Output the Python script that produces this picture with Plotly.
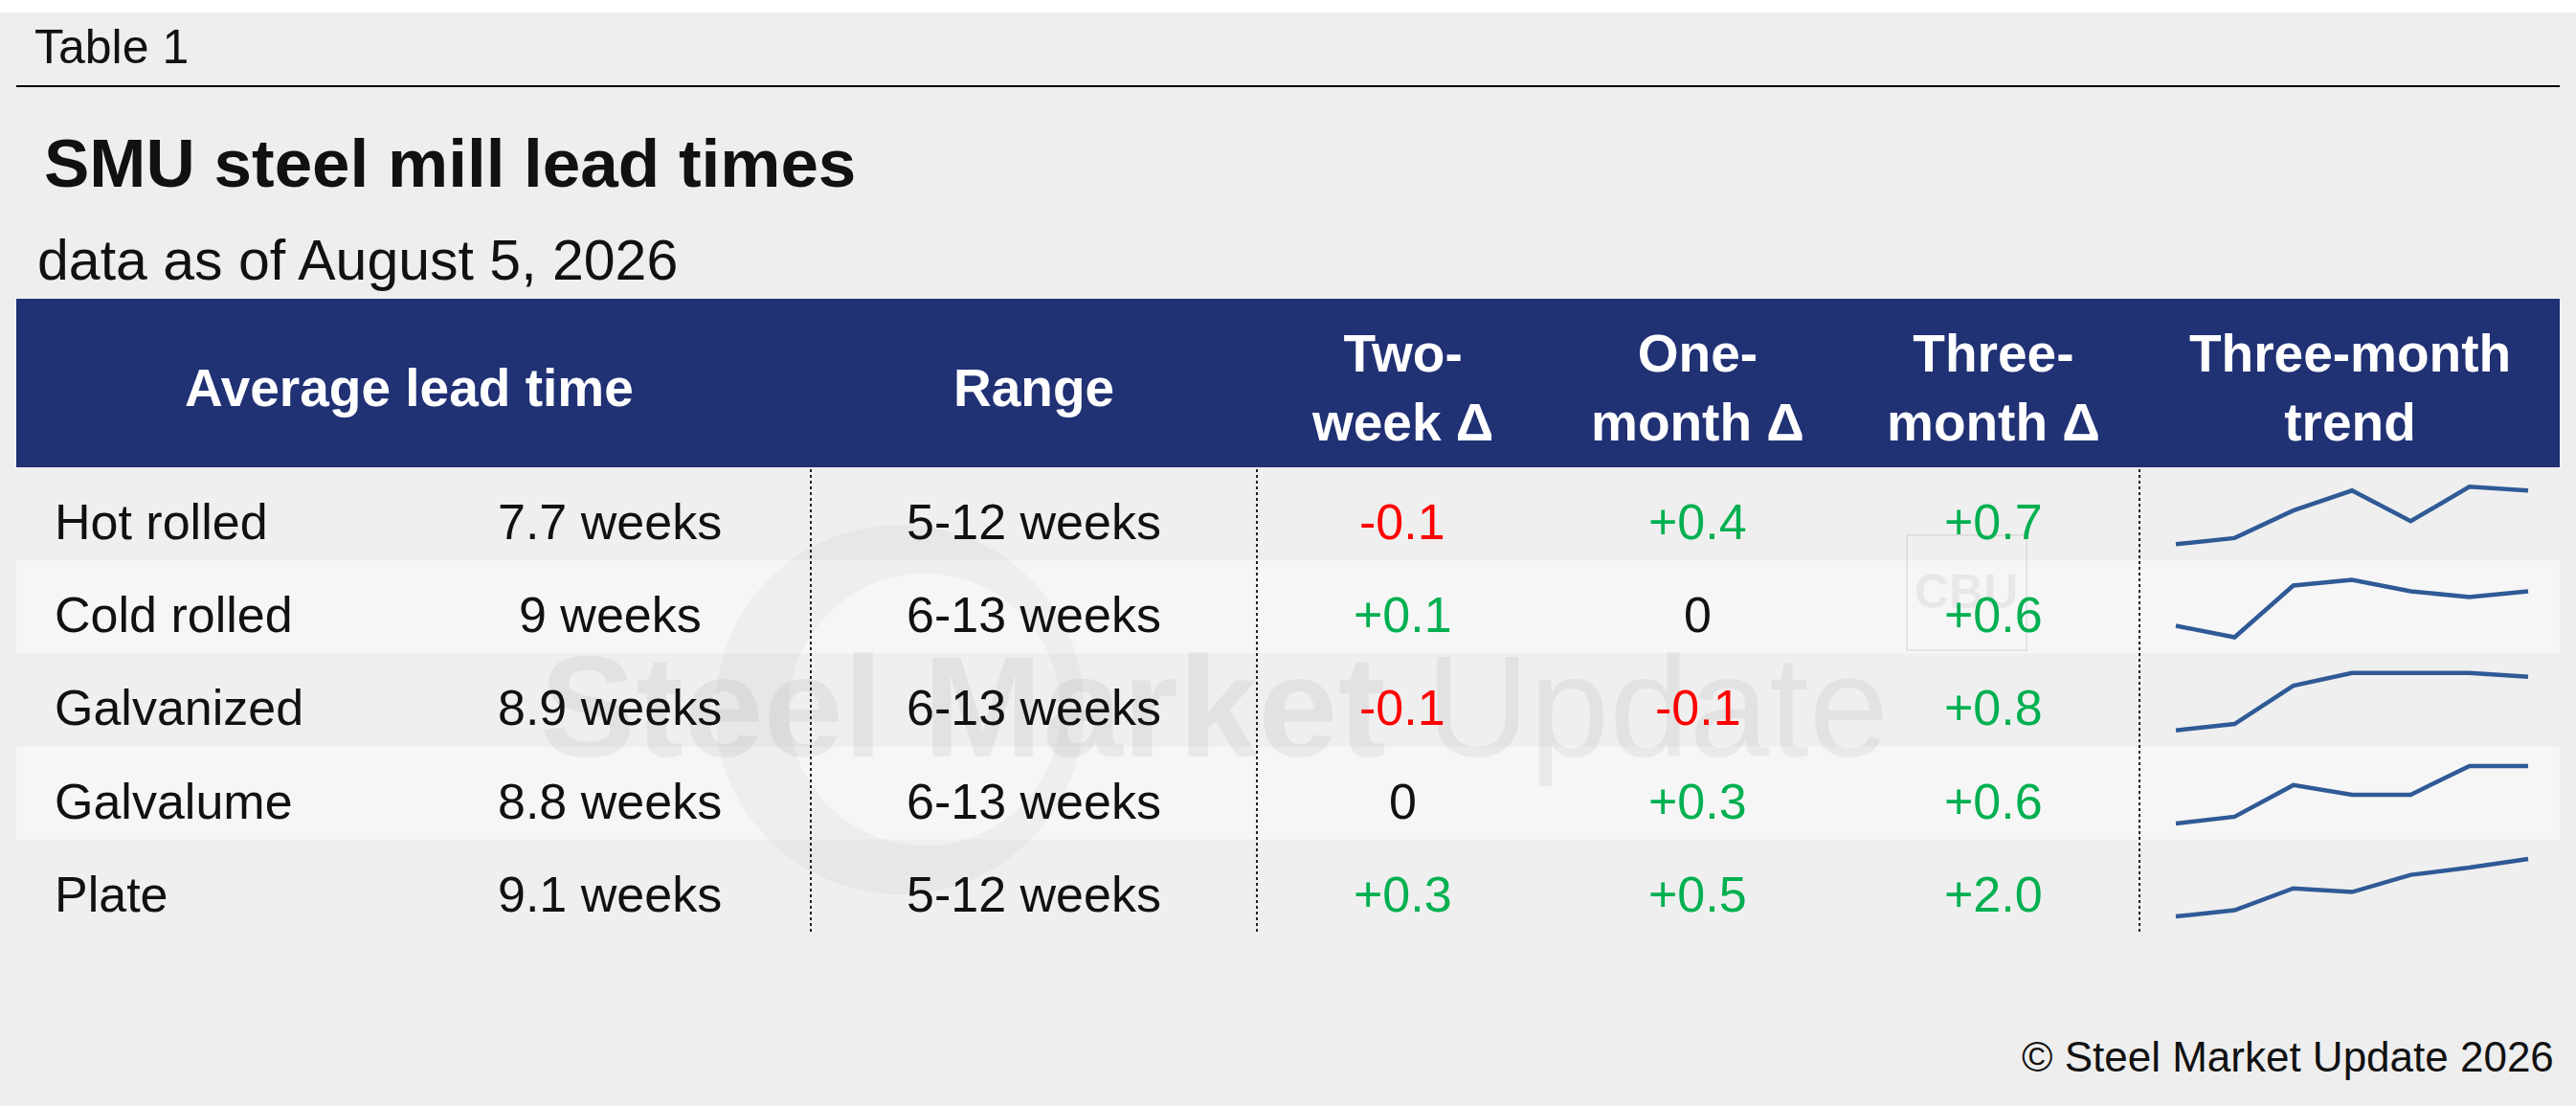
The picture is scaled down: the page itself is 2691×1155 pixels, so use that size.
import plotly.graph_objects as go

#%% Dados
W, H = 2691, 1155

products = ['Hot rolled', 'Cold rolled', 'Galvanized', 'Galvalume', 'Plate']
lead_avg = ['7.7 weeks', '9 weeks', '8.9 weeks', '8.8 weeks', '9.1 weeks']
lead_range = ['5-12 weeks', '6-13 weeks', '6-13 weeks', '6-13 weeks', '5-12 weeks']
chg_2w = [-0.1, 0.1, -0.1, 0, 0.3]
chg_1m = [0.4, 0, -0.1, 0.3, 0.5]
chg_3m = [0.7, 0.6, 0.8, 0.6, 2.0]

# three-month trend, one point every two weeks
trend_steps = [0, 1, 2, 3, 4, 5, 6]
trend_hot = [7.0, 7.08, 7.44, 7.7, 7.3, 7.75, 7.7]
trend_cold = [8.4, 8.2, 9.1, 9.2, 9.0, 8.9, 9.0]
trend_galv = [8.1, 8.2, 8.8, 9.0, 9.0, 9.0, 8.94]
trend_galvalume = [8.2, 8.27, 8.6, 8.5, 8.5, 8.8, 8.8]
trend_plate = [7.1, 7.32, 8.08, 7.95, 8.55, 8.8, 9.1]

headers = ['Average lead time', 'Range', 'Two-<br>week Δ', 'One-<br>month Δ',
           'Three-<br>month Δ', 'Three-month<br>trend']

title = 'SMU steel mill lead times'
subtitle = 'data as of August 5, 2026'
footer = '© Steel Market Update 2026'

#%% Helpers
FONT = 'Liberation Sans, Arial, Helvetica, sans-serif'
NAVY = '#203174'
GREEN = '#00B050'
RED = '#FF0000'
INK = '#111111'
SPARK = '#2F5A96'


def px(x):
    return x / W


def py(y):
    return 1 - y / H


def fmt(v):
    if v == 0:
        return '0'
    return f'{v:+.1f}'


def col(v):
    if v > 0:
        return GREEN
    if v < 0:
        return RED
    return INK


def txt(x, y, s, size, color=INK, bold=False, xanchor='left'):
    if bold:
        s = '<b>' + s + '</b>'
    return dict(x=px(x), y=py(y), xref='paper', yref='paper', text=s, showarrow=False,
                xanchor=xanchor, yanchor='middle', align='center',
                font=dict(family=FONT, size=size, color=color))


def rect(x0, y0, x1, y1, fill, line_color=None, line_width=0):
    return dict(type='rect', xref='paper', yref='paper', x0=px(x0), x1=px(x1),
                y0=py(y1), y1=py(y0), fillcolor=fill, layer='below',
                line=dict(width=line_width, color=line_color or fill))


def circle_path(cx, cy, r):
    k = 0.5523 * r
    return (f'M {cx - r},{cy} C {cx - r},{cy + k} {cx - k},{cy + r} {cx},{cy + r} '
            f'C {cx + k},{cy + r} {cx + r},{cy + k} {cx + r},{cy} '
            f'C {cx + r},{cy - k} {cx + k},{cy - r} {cx},{cy - r} '
            f'C {cx - k},{cy - r} {cx - r},{cy - k} {cx - r},{cy} Z ')


#%% Layout das linhas
row_top = 488
row_h = 97.2
row_mid = 545
left, right = 17, 2674
col_x = [55, 637, 1080, 1465, 1774, 2082, 2455]
sep_x = [847, 1313, 2235]

shapes = []
annotations = []

# fundo
shapes.append(rect(0, 13, W, H, '#EEEEEE'))
shapes.append(dict(type='line', xref='paper', yref='paper', x0=px(17), x1=px(2674),
                   y0=py(90), y1=py(90), line=dict(color='black', width=2)))
shapes.append(rect(left, 312, right, row_top, NAVY))

# faixas alternadas
for i in range(len(products)):
    fill = '#EFEFEF' if i % 2 == 0 else '#F6F6F6'
    shapes.append(rect(left, row_top + i * row_h, right, row_top + (i + 1) * row_h, fill))

# marca d'agua (anel + CBU)
shapes.append(dict(type='path', xref='paper', yref='paper', xsizemode='pixel', ysizemode='pixel',
                   xanchor=px(940), yanchor=py(741), layer='below',
                   path=circle_path(0, 0, 193) + circle_path(26, 0, 142),
                   fillrule='evenodd', fillcolor='rgba(0,0,0,0.03)', line=dict(width=0)))
shapes.append(dict(type='rect', xref='paper', yref='paper', x0=px(1992), x1=px(2117),
                   y0=py(679), y1=py(559), layer='below', fillcolor='rgba(0,0,0,0)',
                   line=dict(color='rgba(0,0,0,0.07)', width=2)))

# separadores pontilhados
for x in sep_x:
    shapes.append(dict(type='line', xref='paper', yref='paper', x0=px(x), x1=px(x),
                       y0=py(490), y1=py(975), line=dict(color='#222222', width=2, dash='dot')))

annotations.append(dict(x=px(1268), y=py(738), xref='paper', yref='paper', showarrow=False,
                        text='<b>Steel Market</b> Update', xanchor='center', yanchor='middle',
                        font=dict(family=FONT, size=150, color='rgba(0,0,0,0.05)')))
annotations.append(dict(x=px(2054), y=py(618), xref='paper', yref='paper', showarrow=False,
                        text='<b>CBU</b>', xanchor='center', yanchor='middle',
                        font=dict(family=FONT, size=50, color='rgba(0,0,0,0.06)')))

# titulos
annotations.append(txt(34, 49, 'Table 1', 50))
annotations.append(txt(44, 171, title, 71, bold=True))
annotations.append(txt(37, 272, subtitle, 59))
annotations.append(txt(2670, 1103, footer, 44, xanchor='right'))

# cabecalho
head_x = [427, 1080, 1465, 1774, 2082, 2455]
for x, h in zip(head_x, headers):
    annotations.append(txt(x, 405, h, 55, color='white', bold=True, xanchor='center'))

# linhas da tabela
for i, name in enumerate(products):
    y = row_mid + i * row_h
    annotations.append(txt(col_x[0], y, name, 52))
    annotations.append(txt(col_x[1], y, lead_avg[i], 52, xanchor='center'))
    annotations.append(txt(col_x[2], y, lead_range[i], 52, xanchor='center'))
    annotations.append(txt(col_x[3], y, fmt(chg_2w[i]), 52, color=col(chg_2w[i]), xanchor='center'))
    annotations.append(txt(col_x[4], y, fmt(chg_1m[i]), 52, color=col(chg_1m[i]), xanchor='center'))
    annotations.append(txt(col_x[5], y, fmt(chg_3m[i]), 52, color=col(chg_3m[i]), xanchor='center'))

#%% Sparklines
fig = go.Figure()
trends = [trend_hot, trend_cold, trend_galv, trend_galvalume, trend_plate]
spark_x0, spark_x1 = 2273, 2641
spark_top, spark_h = 508.3, 60
pad = 4
layout_axes = {}
for i, vals in enumerate(trends):
    n = '' if i == 0 else str(i + 1)
    top = spark_top + i * row_h
    bottom = top + spark_h
    lo, hi = min(vals), max(vals)
    ypad = (hi - lo) * pad / spark_h
    xpad = (trend_steps[-1] - trend_steps[0]) * pad / (spark_x1 - spark_x0)
    layout_axes['xaxis' + n] = dict(domain=[px(spark_x0 - pad), px(spark_x1 + pad)],
                                    range=[trend_steps[0] - xpad, trend_steps[-1] + xpad],
                                    visible=False, fixedrange=True)
    layout_axes['yaxis' + n] = dict(domain=[py(bottom + pad), py(top - pad)],
                                    range=[lo - ypad, hi + ypad], visible=False, fixedrange=True)
    fig.add_trace(go.Scatter(x=trend_steps, y=vals, mode='lines', xaxis='x' + n, yaxis='y' + n,
                             line=dict(color=SPARK, width=4.5), hoverinfo='skip', showlegend=False))

fig.update_layout(width=W, height=H, margin=dict(l=0, r=0, t=0, b=0),
                  paper_bgcolor='white', plot_bgcolor='rgba(0,0,0,0)',
                  shapes=shapes, annotations=annotations, showlegend=False, **layout_axes)

fig.write_html("out.html", config={'displayModeBar': False},
               post_script="document.body.style.margin='0';document.body.style.overflow='hidden';")
